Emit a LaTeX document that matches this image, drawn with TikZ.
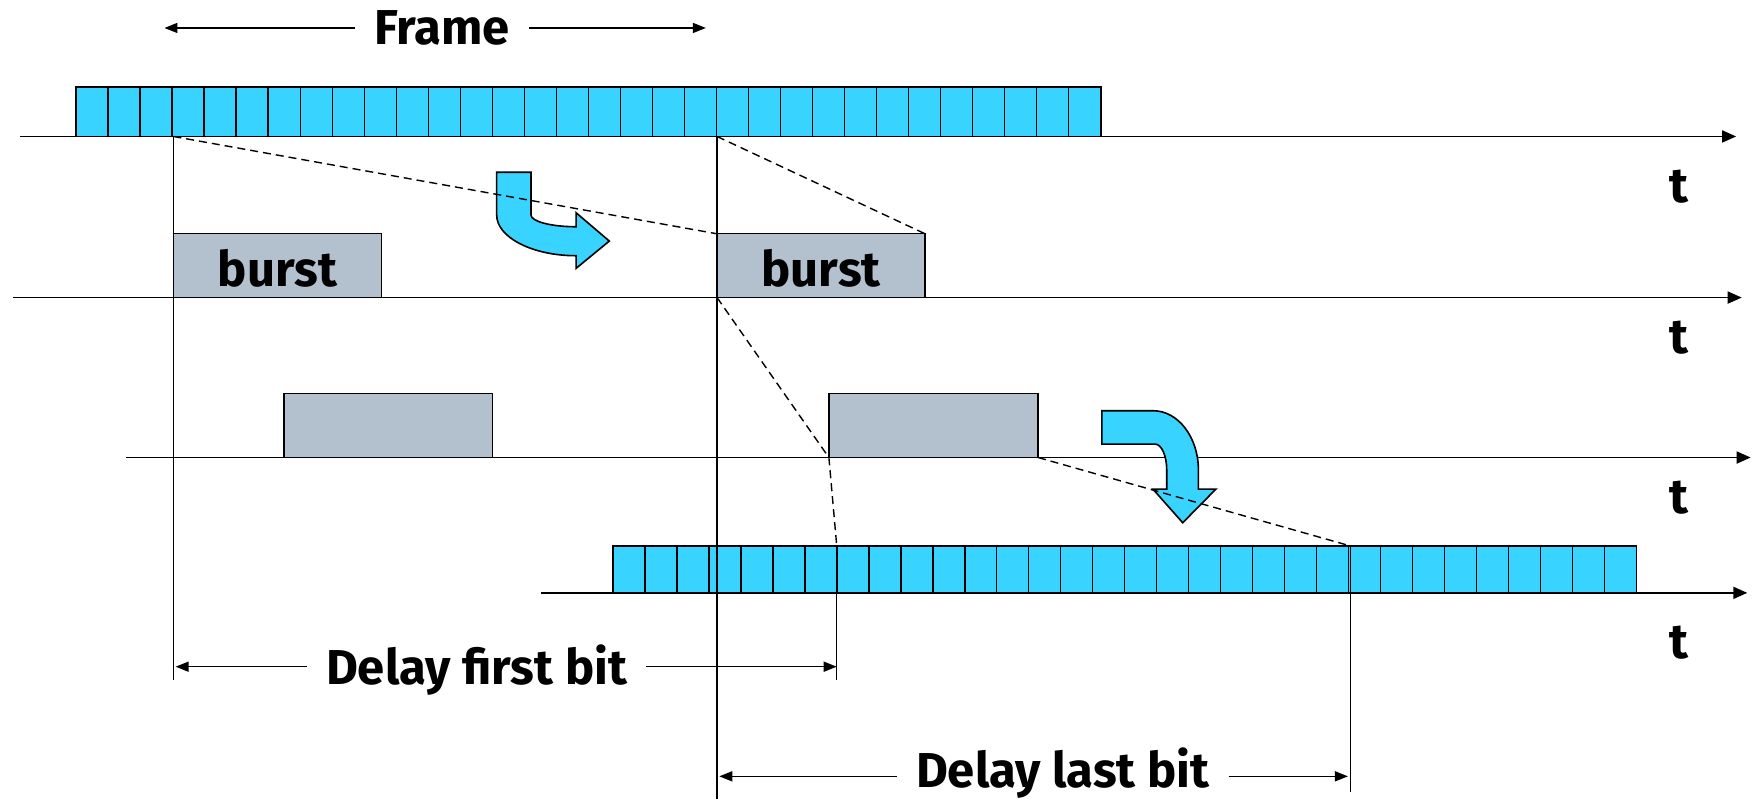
\documentclass[tikz,border=0pt]{standalone}
\usepackage{fontspec}
\setmainfont{Fira Sans}
\usetikzlibrary{arrows.meta}
\definecolor{bitcyan}{RGB}{56,212,255}
\definecolor{burstgray}{RGB}{179,192,206}

\begin{document}
\begin{tikzpicture}[x=1.1186pt,y=-1.1186pt,
  timeaxis/.style={line width=1.8pt, -{Triangle[length=14pt,width=12pt]}},
  dimline/.style={line width=1.5pt},
  dimtip/.style={dimline, -{Triangle[length=13pt,width=10pt]}},
  marker/.style={line width=1.1pt},
  guide/.style={line width=1.4pt, dash pattern=on 8pt off 5pt},
  lbl/.style={font=\bfseries\fontsize{49}{50}\selectfont, inner ysep=0pt, inner xsep=19pt},
  tlbl/.style={font=\bfseries\fontsize{49}{50}\selectfont, inner sep=0pt, anchor=base},
  framebox/.style={draw, line width=1.8pt, fill=bitcyan},
  cell/.style={line width=1.4pt},
  burstbox/.style={draw, line width=1.4pt, fill=burstgray},
  bendarrow/.style={draw, line width=1.6pt, fill=bitcyan, line join=miter}]

\useasboundingbox (0,0) rectangle (1568,714);

% ---------- time axes ----------
\coordinate (axA0) at (18,122);   \coordinate (axA1) at (1552,122);
\coordinate (axB0) at (12,266);   \coordinate (axB1) at (1557,266);
\coordinate (axC0) at (113,409);  \coordinate (axC1) at (1565,409);
\coordinate (axD0) at (484,530);  \coordinate (axD1) at (1562,530);

% ---------- bit frames ----------
\coordinate (fA0) at (68,78);   \coordinate (fA1) at (984,122);
\coordinate (fD0) at (548,488); \coordinate (fD1) at (1463,530);
\draw[framebox] (fA0) rectangle (fA1);
\foreach \i in {1,...,31}
  \draw[cell] ({68+\i*28.625},78) -- ({68+\i*28.625},122);
\draw[framebox] (fD0) rectangle (fD1);
\foreach \i in {1,...,31}
  \draw[cell] ({548+\i*28.59},488) -- ({548+\i*28.59},530);

% bit boundaries used by the guides
\coordinate (bitA3)  at (155,122);
\coordinate (bitA20) at (641,122);
\coordinate (bitD7t)  at (748,488);
\coordinate (bitD23t) at (1207,488);

% ---------- bursts ----------
\draw[burstbox] (155,209) rectangle (341,266);
\draw[burstbox] (641,209) rectangle (827,266);
\draw[burstbox] (254,352) rectangle (440,409);
\draw[burstbox] (741,352) rectangle (928,409);
\coordinate (b2tl) at (641,209); \coordinate (b2tr) at (827,209);
\coordinate (b2bl) at (641,266);
\coordinate (b4bl) at (741,409); \coordinate (b4br) at (928,409);
\node[tlbl] (burstA) at (248,256) {burst};
\node[tlbl] (burstB) at (734,256) {burst};

% ---------- axes on top of frames ----------
\draw[timeaxis] (axA0) -- (axA1);
\draw[timeaxis] (axB0) -- (axB1);
\draw[timeaxis] (axC0) -- (axC1);
\draw[timeaxis] (axD0) -- (axD1);

\node[tlbl] (tA) at (1501,181) {t};
\node[tlbl] (tB) at (1501,316) {t};
\node[tlbl] (tC) at (1501,459) {t};
\node[tlbl] (tD) at (1501,589) {t};

% ---------- bent arrows ----------
\draw[bendarrow] (444,154) -- (474.7,154) -- (474.7,192.2)
  .. controls (474.7,198) and (492.8,202.7) .. (515,202.7)
  -- (515,190.2) -- (544.7,215.5) -- (515,239.9) -- (515,228.6)
  .. controls (476,228.6) and (444,212.2) .. (444,192.2) -- cycle;
\draw[bendarrow] (985,367.2) -- (1031,367.2)
  .. controls (1053.2,367.2) and (1071.3,391) .. (1071.3,420)
  -- (1071.3,437.2) -- (1087,437.2) -- (1057.3,467.3) -- (1030.6,437.2)
  -- (1043,437.2) -- (1043,420)
  .. controls (1043,407.4) and (1038.3,397) .. (1032.6,397)
  -- (985,397) -- cycle;

% ---------- dashed guides ----------
\draw[guide] (bitA3) -- (b2tl);
\draw[guide] (bitA20) -- (b2tr);
\draw[guide] (b2bl) -- (b4bl) -- (bitD7t);
\draw[guide] (b4br) -- (bitD23t);

% ---------- vertical markers ----------
\coordinate (m1b) at (155,608);
\coordinate (m2b) at (641,720);
\coordinate (m3b) at (748,608);
\coordinate (m4b) at (1207,708);
\draw[marker] (bitA3) -- (m1b);
\draw[marker] (bitA20) -- (m2b);
\draw[marker] (bitD7t) -- (m3b);
\draw[marker] (bitD23t) -- (m4b);

% ---------- dimension labels ----------
\coordinate (frL) at (147,25);  \coordinate (frR) at (631,25);
\node[lbl, anchor=base] (frame) at (395,40) {Frame};
\draw[dimtip] (frame.west |- frL) -- (frL);
\draw[dimtip] (frame.east |- frR) -- (frR);

\coordinate (dfL) at (157,596); \coordinate (dfR) at (748,596);
\node[lbl, anchor=base] (dfirst) at (426,612) {Delay first bit};
\draw[dimtip] (dfirst.west |- dfL) -- (dfL);
\draw[dimtip] (dfirst.east |- dfR) -- (dfR);

\coordinate (dlL) at (643,694); \coordinate (dlR) at (1205,694);
\node[lbl, anchor=base] (dlast) at (950,704) {Delay last bit};
\draw[dimtip] (dlast.west |- dlL) -- (dlL);
\draw[dimtip] (dlast.east |- dlR) -- (dlR);

\end{tikzpicture}
\end{document}
